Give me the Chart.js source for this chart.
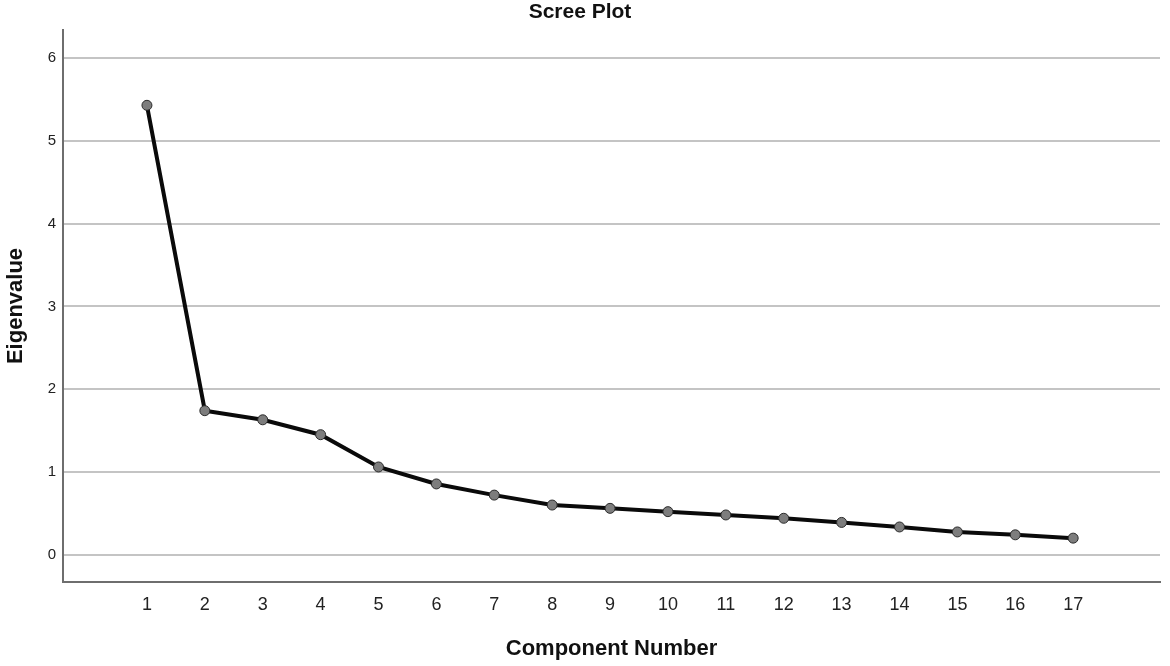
<!DOCTYPE html>
<html>
<head>
<meta charset="utf-8">
<script src="https://cdn.jsdelivr.net/npm/chart.js@4"></script>
<style>
  html, body { margin: 0; padding: 0; background: #fff; }
  #wrap { width: 1170px; height: 666px; }
</style>
</head>
<body>
<div id="wrap"><canvas id="scree"></canvas></div>
<script>
// data
const components = [1, 2, 3, 4, 5, 6, 7, 8, 9, 10, 11, 12, 13, 14, 15, 16, 17];
const eigenvalues = [5.43, 1.74, 1.63, 1.45, 1.06, 0.855, 0.72, 0.60, 0.56, 0.52, 0.48, 0.44, 0.39, 0.335, 0.275, 0.24, 0.20];
const yTickValues = [0, 1, 2, 3, 4, 5, 6];

const points = components.map((c, i) => ({ x: c, y: eigenvalues[i] }));

const ctx = document.getElementById('scree').getContext('2d');
const screeChart = new Chart(ctx, {
    type: 'line',
    data: {
        datasets: [{
            label: 'Eigenvalue',
            data: points,
            borderColor: '#0a0a0a',
            borderWidth: 4,
            pointRadius: 5,
            pointBackgroundColor: '#7d7d7d',
            pointBorderColor: '#2a2a2a',
            pointBorderWidth: 1,
            tension: 0
        }]
    },
    options: {
        responsive: true,
        maintainAspectRatio: false,
        animation: false,
        layout: { padding: { left: 0, right: 10, top: 0, bottom: 0 } },
        plugins: {
            legend: { display: false },
            tooltip: { enabled: false },
            title: {
                display: true,
                text: 'Scree Plot',
                color: '#111',
                font: { family: 'Liberation Sans, Arial, sans-serif', size: 21, weight: 'bold' },
                padding: { top: 0, bottom: 4.8 }
            }
        },
        scales: {
            x: {
                type: 'linear',
                min: -0.45,
                max: 18.5,
                afterBuildTicks: (s) => { s.ticks = components.map(v => ({ value: v })); },
                afterFit: (s) => { s.height = 84; },
                grid: { display: false, drawTicks: false },
                border: { display: true, color: '#6e6e6e', width: 2 },
                ticks: {
                    color: '#222',
                    padding: 12,
                    maxRotation: 0,
                    autoSkip: false,
                    font: { family: 'Liberation Sans, Arial, sans-serif', size: 18 }
                },
                title: {
                    display: true,
                    text: 'Component Number',
                    color: '#111',
                    font: { family: 'Liberation Sans, Arial, sans-serif', size: 22, weight: 'bold' },
                    padding: { top: 0, bottom: 3.8 }
                }
            },
            y: {
                min: -0.33,
                max: 6.34,
                afterBuildTicks: (s) => { s.ticks = yTickValues.map(v => ({ value: v })); },
                afterFit: (s) => { s.width = 63; },
                grid: { color: '#c4c4c4', lineWidth: 2, drawTicks: false },
                border: { display: true, color: '#6e6e6e', width: 2 },
                ticks: {
                    color: '#222',
                    padding: 7,
                    font: { family: 'Liberation Sans, Arial, sans-serif', size: 15 }
                },
                title: {
                    display: true,
                    text: 'Eigenvalue',
                    color: '#111',
                    font: { family: 'Liberation Sans, Arial, sans-serif', size: 22, weight: 'bold' },
                    padding: { top: 3, bottom: 0 }
                }
            }
        }
    }
});
</script>
</body>
</html>
